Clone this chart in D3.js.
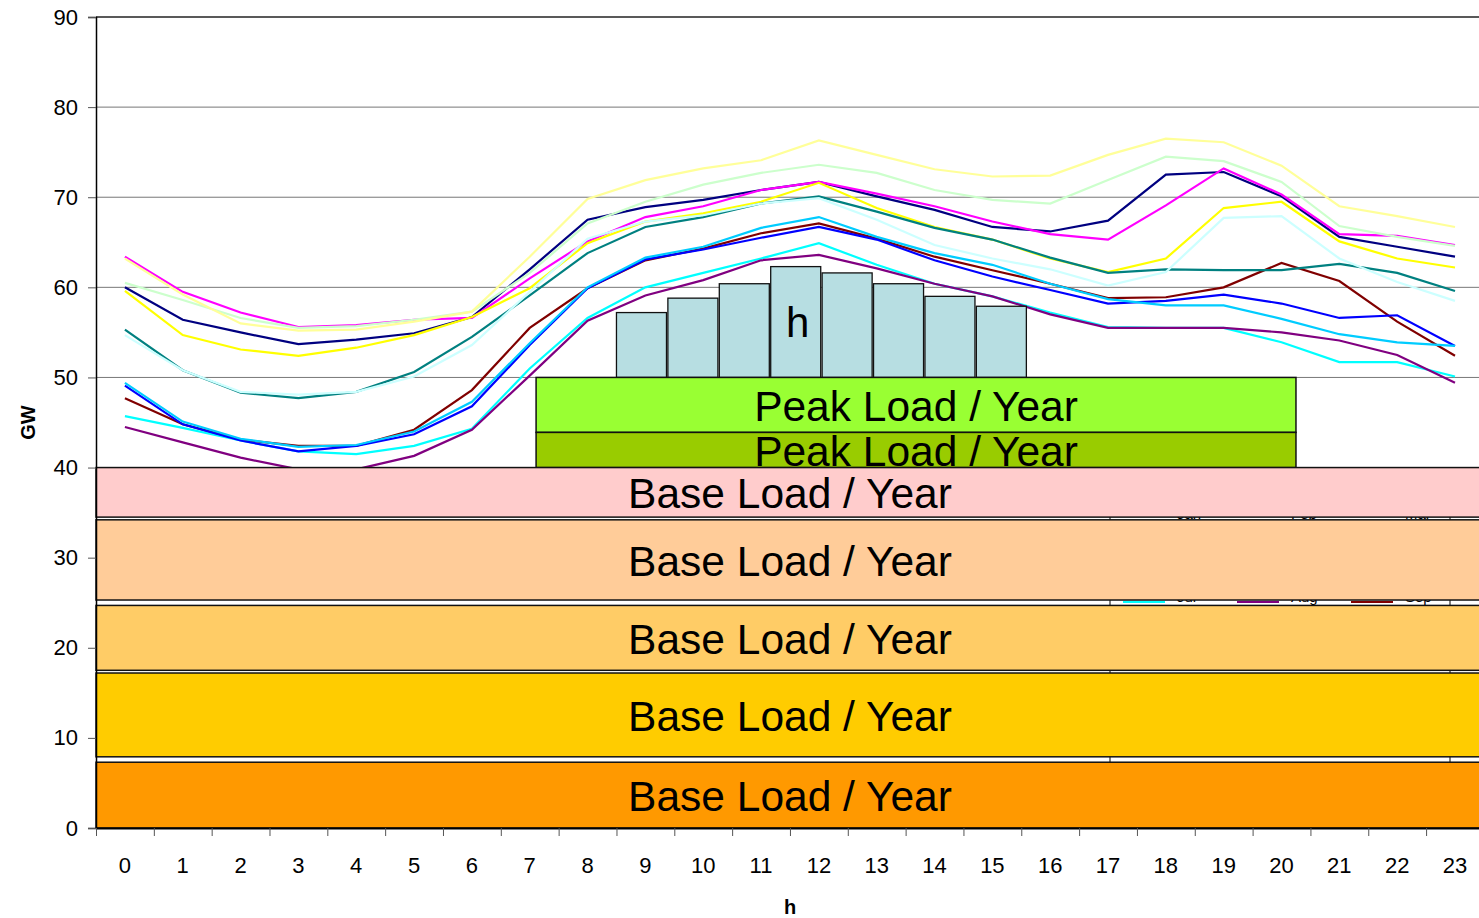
<!DOCTYPE html>
<html lang="en">
<head>
<meta charset="UTF-8">
<title>Load curves</title>
<style>
  body { margin: 0; background: #fff; }
  text { font-family: "Liberation Sans", Arial, sans-serif; }
</style>
</head>
<body>
<svg></svg>
<script src="https://d3js.org/d3.v7.min.js"></script>
<script>
// data
var hourLabels = ["0","1","2","3","4","5","6","7","8","9","10","11","12","13","14","15","16","17","18","19","20","21","22","23"];
var months = ["Apr","May","Jun","Jul","Aug","Sep","Oct","Nov","Dec","Jan","Feb","Mar"];
var apr = [60.0,56.4,55.0,53.7,54.2,54.9,56.7,62.0,67.5,68.9,69.7,70.8,71.7,70.1,68.6,66.7,66.2,67.4,72.5,72.8,70.1,65.6,64.5,63.4];
var may = [63.4,59.5,57.2,55.6,55.8,56.4,56.6,61.0,65.1,67.8,69.0,70.8,71.7,70.4,69.0,67.3,65.9,65.3,69.1,73.2,70.3,65.9,65.7,64.7];
var jun = [59.6,54.7,53.1,52.4,53.3,54.7,56.7,59.9,64.9,67.3,68.2,69.5,71.6,68.8,66.7,65.3,63.2,61.7,63.2,68.8,69.5,65.1,63.2,62.2];
var jul = [45.7,44.4,43.0,41.8,41.5,42.4,44.3,51.0,56.6,60.0,61.6,63.2,64.9,62.5,60.4,59.0,57.2,55.6,55.5,55.5,53.9,51.7,51.7,50.1];
var aug = [44.5,42.8,41.1,39.8,39.8,41.3,44.2,50.2,56.3,59.1,60.8,63.0,63.6,62.1,60.4,59.0,57.0,55.5,55.5,55.5,55.0,54.1,52.5,49.4];
var sep = [47.7,44.8,43.1,42.4,42.4,44.2,48.6,55.5,59.9,63.0,64.3,66.0,67.1,65.4,63.4,61.9,60.4,58.8,58.9,60.0,62.7,60.7,56.2,52.4];
var oct = [55.3,50.8,48.3,47.7,48.4,50.6,54.5,59.1,63.8,66.7,67.8,69.3,70.1,68.4,66.6,65.3,63.3,61.6,62.0,61.9,61.9,62.6,61.6,59.6];
var nov = [49.1,44.8,43.0,41.8,42.4,43.7,46.8,53.6,59.9,63.1,64.2,65.5,66.7,65.3,63.0,61.2,59.7,58.2,58.5,59.2,58.2,56.6,56.9,53.5];
var dec = [49.4,45.1,43.2,42.3,42.5,44.0,47.3,53.8,60.0,63.3,64.5,66.6,67.8,65.6,63.8,62.5,60.4,58.7,58.0,58.0,56.5,54.8,53.9,53.5];
var jan = [54.7,50.8,48.4,48.1,48.4,50.1,53.6,59.5,65.4,67.3,68.0,69.3,69.9,67.5,64.7,63.2,62.0,60.2,61.7,67.7,67.9,63.2,60.6,58.5];
var feb = [60.5,58.6,56.6,55.5,55.7,56.4,57.3,61.6,67.1,69.5,71.4,72.7,73.6,72.7,70.8,69.7,69.3,71.9,74.5,74.0,71.7,66.8,65.6,64.6];
var mar = [63.2,59.2,56.0,55.2,55.3,56.2,57.3,63.4,69.8,71.9,73.2,74.1,76.3,74.7,73.1,72.3,72.4,74.7,76.5,76.1,73.5,69.0,67.9,66.7];
var seriesValues = [apr,may,jun,jul,aug,sep,oct,nov,dec,jan,feb,mar];
var yTicks = [0,10,20,30,40,50,60,70,80,90];

// overlay blocks (GW ranges, hour ranges)
var baseLabel = "Base Load / Year";
var peakLabel = "Peak Load / Year";
var baseBands = [[0,7.3],[7.9,17.2],[17.5,24.7],[25.3,34.2],[34.5,40]];
var peakBands = [[43.9,50],[40,43.9]];
var peakHours = [7.61,20.75];
var hourBars = [57.2,58.8,60.4,62.3,61.6,60.4,59.0,57.9];
var hourBarStart = 9.0;
var legendRows = [["Jan","Feb","Mar"],["Jul","Aug","Sep"],["Apr","May","Jun"],["Oct","Nov","Dec"]];

// styles
var lineColors = ["#000080","#FF00FF","#FFFF00","#00FFFF","#800080","#800000","#008080","#0000FF","#00CCFF","#CCFFFF","#CCFFCC","#FFFF99"];
var baseColors = ["#FF9900","#FFCC00","#FFCC66","#FFCC99","#FFCCCC"];
var peakColors = ["#99FF33","#99CC00"];

var W = 1479, H = 918;
var plotLeft = 96, plotTop = 17, plotBottom = 828, band = 57.83;

var svg = d3.select("svg").attr("width", W).attr("height", H);

var x = d3.scaleBand().domain(hourLabels).range([plotLeft, plotLeft + band * 24]).padding(0);
var xh = d3.scaleLinear().domain([0, 24]).range([plotLeft, plotLeft + band * 24]);
var y = d3.scaleLinear().domain([0, 90]).range([plotBottom, plotTop]);

// grid
svg.append("g")
  .selectAll("line")
  .data(yTicks.filter(function(d){ return d > 0; }))
  .enter()
  .append("line")
  .attr("x1", plotLeft).attr("x2", xh(24))
  .attr("y1", function(d){ return y(d); })
  .attr("y2", function(d){ return y(d); })
  .attr("stroke", function(d){ return d === 90 ? "#222" : "#777"; })
  .attr("stroke-width", function(d){ return d === 90 ? 1.5 : 1; });

// legend (mostly hidden behind the blocks)
var lg = svg.append("g");
lg.append("rect")
  .attr("x", 1110).attr("y", 470).attr("width", 340).attr("height", 320)
  .attr("fill", "#fff").attr("stroke", "#000").attr("stroke-width", 1);
legendRows.forEach(function(row, r) {
  var by = 519 + r * 83;
  row.forEach(function(m, c) {
    var k = months.indexOf(m);
    var lx = 1123 + c * 114;
    lg.append("line")
      .attr("x1", lx).attr("x2", lx + 42)
      .attr("y1", by - 17 + (r === 1 ? 17 : 0)).attr("y2", by - 17 + (r === 1 ? 17 : 0))
      .attr("stroke", lineColors[k]).attr("stroke-width", 2);
    lg.append("text")
      .attr("x", lx + 54).attr("y", by + (r === 3 ? 10 : 0))
      .attr("font-size", 15).text(m);
  });
});

// lines
var line = d3.line()
  .x(function(d, i){ return x(hourLabels[i]) + x.bandwidth() / 2; })
  .y(function(d){ return y(d); });

svg.append("g")
  .selectAll("path")
  .data(seriesValues)
  .enter()
  .append("path")
  .attr("d", line)
  .attr("fill", "none")
  .attr("stroke", function(d, i){ return lineColors[i]; })
  .attr("stroke-width", 2.2);

// hour bars
var barStep = 0.889, barW = 0.865;
svg.append("g")
  .selectAll("rect")
  .data(hourBars)
  .enter()
  .append("rect")
  .attr("x", function(d, i){ return xh(hourBarStart + i * barStep); })
  .attr("width", xh(barW) - xh(0))
  .attr("y", function(d){ return y(d); })
  .attr("height", function(d){ return y(50) - y(d); })
  .attr("fill", "#B7DEE2").attr("stroke", "#111").attr("stroke-width", 1.3);
svg.append("text")
  .attr("x", xh(hourBarStart + 3 * barStep + barW / 2) + 2)
  .attr("y", y(50) - 40)
  .attr("text-anchor", "middle").attr("font-size", 42)
  .text("h");

// peak blocks
peakBands.forEach(function(b, i) {
  svg.append("rect")
    .attr("x", xh(peakHours[0])).attr("width", xh(peakHours[1]) - xh(peakHours[0]))
    .attr("y", y(b[1])).attr("height", y(b[0]) - y(b[1]))
    .attr("fill", peakColors[i]).attr("stroke", "#111").attr("stroke-width", 1.5);
  svg.append("text")
    .attr("x", xh((peakHours[0] + peakHours[1]) / 2))
    .attr("y", (y(b[0]) + y(b[1])) / 2 + 16.5)
    .attr("text-anchor", "middle").attr("font-size", 42.5)
    .text(peakLabel);
});

// base blocks
baseBands.forEach(function(b, i) {
  svg.append("rect")
    .attr("x", xh(0)).attr("width", xh(24) - xh(0))
    .attr("y", y(b[1])).attr("height", y(b[0]) - y(b[1]))
    .attr("fill", baseColors[i]).attr("stroke", "#111").attr("stroke-width", 1.5);
  svg.append("text")
    .attr("x", xh(12))
    .attr("y", (y(b[0]) + y(b[1])) / 2 + 16)
    .attr("text-anchor", "middle").attr("font-size", 42.5)
    .text(baseLabel);
});

// axes
var yAxis = svg.append("g")
  .attr("transform", "translate(" + plotLeft + ",0)")
  .call(d3.axisLeft(y).tickValues(yTicks).tickSize(8).tickPadding(10));
yAxis.select(".domain").attr("stroke", "#000").attr("stroke-width", 1.5);
yAxis.selectAll(".tick line").attr("stroke", "#555");
yAxis.selectAll("text").attr("font-size", 22).attr("fill", "#000")
  .attr("font-family", "Liberation Sans, Arial, sans-serif");

var xTicks = svg.append("g")
  .attr("transform", "translate(0," + plotBottom + ")")
  .call(d3.axisBottom(xh).tickValues(d3.range(25)).tickFormat("").tickSize(8).tickSizeOuter(0));
xTicks.select(".domain").attr("stroke", "#000").attr("stroke-width", 2);
xTicks.selectAll(".tick line").attr("stroke", "#555");

var xLabels = svg.append("g")
  .attr("transform", "translate(0," + plotBottom + ")")
  .call(d3.axisBottom(x).tickSize(0).tickPadding(29));
xLabels.select(".domain").remove();
xLabels.selectAll("text").attr("font-size", 22).attr("fill", "#000")
  .attr("font-family", "Liberation Sans, Arial, sans-serif");

svg.append("text")
  .attr("x", 790).attr("y", 914)
  .attr("text-anchor", "middle").attr("font-size", 20).attr("font-weight", "bold")
  .text("h");
svg.append("text")
  .attr("transform", "translate(35," + ((plotTop + plotBottom) / 2) + ") rotate(-90)")
  .attr("text-anchor", "middle").attr("font-size", 20).attr("font-weight", "bold")
  .text("GW");
</script>
</body>
</html>
